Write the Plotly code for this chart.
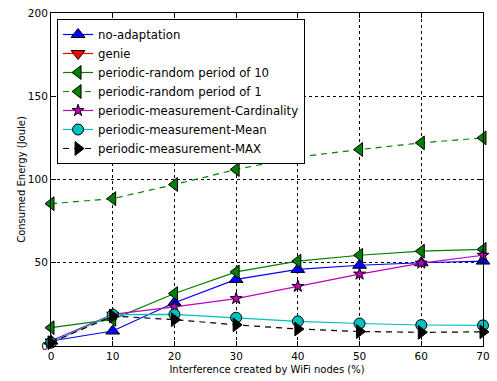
import plotly.graph_objects as go

# Interference level created by WiFi nodes (%)
interference = [0, 10, 20, 30, 40, 50, 60, 70]

# Consumed energy (Joule) per strategy
no_adaptation = [3, 9, 26, 40, 46, 48.5, 50, 51]
genie = [None] * 8
periodic_random_10 = [11, 16, 31.5, 44.5, 51, 54.5, 57, 58]
periodic_random_1 = [85.5, 88.5, 97, 106, 113.5, 118, 122, 125]
meas_cardinality = [3, 19, 23.5, 28.5, 35.8, 43.2, 49.8, 54.5]
meas_mean = [2, 18.8, 19, 17, 14.8, 13.5, 12.6, 12.4]
meas_max = [2, 18, 15.8, 12.7, 10.2, 8.7, 8.2, 8.5]

x_ticks = [0, 10, 20, 30, 40, 50, 60, 70]
y_ticks = [0, 50, 100, 150, 200]

FONT = "DejaVu Sans"

series = [
    ("no-adaptation", no_adaptation, "#0000ff", "triangle-up", 12, "solid"),
    ("genie", genie, "#ff0000", "triangle-down", 12, "solid"),
    ("periodic-random period of 10", periodic_random_10, "#008000", "triangle-left", 12, "solid"),
    ("periodic-random period of 1", periodic_random_1, "#008000", "triangle-left", 12, "6px,5px"),
    ("periodic-measurement-Cardinality", meas_cardinality, "#bf00bf", "star", 9, "solid"),
    ("periodic-measurement-Mean", meas_mean, "#00bfbf", "circle", 11, "solid"),
    ("periodic-measurement-MAX", meas_max, "#000000", "triangle-right", 12, "6px,5px"),
]

fig = go.Figure()
for name, vals, color, symbol, size, dash in series:
    fig.add_trace(go.Scatter(
        x=interference, y=vals, name=name, mode="lines+markers",
        line=dict(color=color, width=1.2, dash=dash),
        marker=dict(symbol=symbol, size=size, color=color,
                    line=dict(color="black", width=1)),
        cliponaxis=False,
    ))

axis_common = dict(
    showline=True, linecolor="black", linewidth=1, mirror="ticks",
    ticks="inside", ticklen=5, tickcolor="black",
    showgrid=True, gridcolor="black", gridwidth=1, griddash="dot",
    zeroline=False,
    tickfont=dict(family=FONT, size=10.5, color="black"),
)

fig.update_xaxes(
    range=[0, 70], tickvals=x_ticks,
    title=dict(text="Interference created by WiFi nodes (%)",
               font=dict(family=FONT, size=10, color="black"), standoff=5),
    **axis_common,
)
fig.update_yaxes(
    range=[0, 200], tickvals=y_ticks,
    title=dict(text="Consumed Energy (Joule)",
               font=dict(family=FONT, size=10, color="black"), standoff=0),
    **axis_common,
)

fig.update_layout(
    width=497, height=381,
    margin=dict(l=51, r=7, t=10, b=30),
    plot_bgcolor="white", paper_bgcolor="white",
    font=dict(family=FONT, color="black"),
    legend=dict(
        x=0.014, y=0.982, xanchor="left", yanchor="top",
        bgcolor="white", bordercolor="black", borderwidth=1,
        font=dict(family=FONT, size=11.7, color="black"),
        tracegroupgap=0, itemwidth=30,
    ),
    showlegend=True,
)

fig.write_html("out.html")
